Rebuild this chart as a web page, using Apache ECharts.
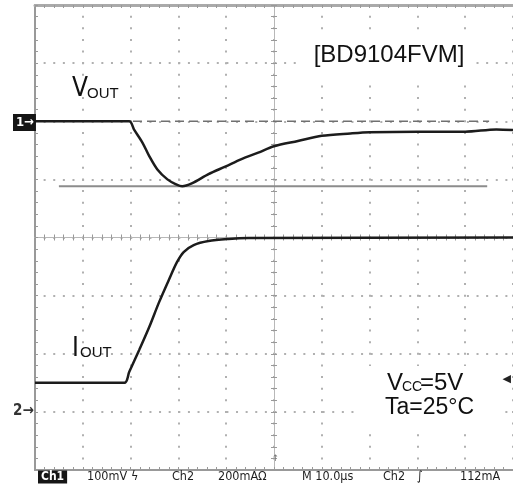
<!DOCTYPE html>
<html><head><meta charset="utf-8">
<script src="https://cdn.jsdelivr.net/npm/echarts@6/dist/echarts.min.js"></script>
<style>html,body{margin:0;padding:0;background:#fff}#c{width:513px;height:496px}</style>
</head><body><div id="c"></div>
<script>
// ---- data (time in µs, Vout deviation in mV, Iout in mA) ----
const timeVout = [0, 19.7, 20.7, 22.5, 23.9, 25.6, 27.7, 29.4, 30.8, 32.8, 36.3, 39.8, 43.2, 46.7, 50, 55, 60, 66, 70, 80, 90, 96.5, 100];
const vout     = [0, 0, -14, -37, -60, -83, -100, -108, -112, -107, -91, -78, -65, -54, -43, -34, -25, -21, -19, -18, -18, -14, -15];
const timeIout = [0, 18.7, 19.7, 21.8, 23.9, 25.9, 28.0, 29.7, 31.1, 33.2, 36.3, 40.5, 44.6, 100];
const iout     = [100, 100, 137, 213, 292, 375, 454, 515, 550, 574, 588, 595, 598, 600];
// cursors: [startTime, endTime]
const minCursorSpan = [5, 94.6];
const refCursorSpan = [20.5, 95];
const refLevel = 0;
const minLevel = Math.min(...vout);
// status bar strings
const statusTexts = ['100mV', 'ϟ', 'Ch2', '200mAΩ', 'M 10.0µs', 'Ch2', '∫', '112mA'];
const statusX     = [87, 131, 172, 218, 302, 383, 417, 460];

const chart = echarts.init(document.getElementById('c'), null, {renderer: 'canvas'});
const G = {left: 35, top: 5, width: 481, height: 465};
const dot = '#b0b0b0', frame = '#999';

function tickAxis(extra) {
  return Object.assign({
    type: 'value', axisLabel: {show: false},
    axisTick: {show: true, inside: true, length: 3, lineStyle: {color: frame, width: 1}},
    minorTick: {show: true, splitNumber: 5, length: 3, lineStyle: {color: frame, width: 1}},
    splitLine: {show: false}
  }, extra);
}

const option = {
  animation: false,
  backgroundColor: '#fff',
  grid: [Object.assign({}, G), Object.assign({}, G)],
  xAxis: [
    tickAxis({gridIndex: 0, min: 0, max: 100, interval: 10, position: 'bottom',
      axisLine: {show: true, onZero: false, lineStyle: {color: frame, width: 2}},
      splitLine: {show: true, lineStyle: {color: dot, width: 2, type: [2, 9.625], dashOffset: 1}}}),
    tickAxis({gridIndex: 0, min: 0, max: 100, interval: 10, position: 'top',
      axisLine: {show: true, onZero: false, lineStyle: {color: '#aaa', width: 3}}}),
    tickAxis({gridIndex: 1, min: -5, max: 5, interval: 1, position: 'bottom',
      axisLine: {show: true, onZero: true, lineStyle: {color: '#b8b8b8', width: 1}}}),
    tickAxis({gridIndex: 1, min: -5, max: 5, interval: 1, position: 'top',
      axisLine: {show: true, onZero: true, lineStyle: {color: '#b8b8b8', width: 1}}})
  ],
  yAxis: [
    tickAxis({gridIndex: 0, min: -600, max: 200, interval: 100, position: 'left',
      axisLine: {show: true, onZero: false, lineStyle: {color: frame, width: 2}},
      splitLine: {show: true, lineStyle: {color: dot, width: 2, type: [2, 7.62], dashOffset: 1}}}),
    {gridIndex: 0, type: 'value', min: -200, max: 1400, interval: 200, position: 'right', show: false},
    tickAxis({gridIndex: 1, min: -4, max: 4, interval: 1, position: 'left',
      axisLine: {show: true, onZero: true, lineStyle: {color: '#b8b8b8', width: 1}}}),
    tickAxis({gridIndex: 1, min: -4, max: 4, interval: 1, position: 'right',
      axisLine: {show: true, onZero: true, lineStyle: {color: '#b8b8b8', width: 1}}})
  ],
  series: [
    {name: 'minCursor', type: 'line', xAxisIndex: 0, yAxisIndex: 0, z: 3, showSymbol: false, silent: true,
     data: minCursorSpan.map(t => [t, minLevel]),
     lineStyle: {color: '#8c8c8c', width: 2}},
    {name: 'refCursor', type: 'line', xAxisIndex: 0, yAxisIndex: 0, z: 3, showSymbol: false, silent: true,
     data: refCursorSpan.map(t => [t, refLevel]),
     lineStyle: {color: '#707070', width: 1.5, type: [9, 5]}},
    {name: 'VOUT', type: 'line', xAxisIndex: 0, yAxisIndex: 0, z: 5, showSymbol: false, smooth: 0.3,
     data: timeVout.map((t, i) => [t, vout[i]]),
     lineStyle: {color: '#1c1c1c', width: 2.5}},
    {name: 'IOUT', type: 'line', xAxisIndex: 0, yAxisIndex: 1, z: 5, showSymbol: false, smooth: 0.3,
     data: timeIout.map((t, i) => [t, iout[i]]),
     lineStyle: {color: '#1c1c1c', width: 2.5}}
  ],
  graphic: [
    {type: 'rect', z: 50, shape: {x: 296, y: 33, width: 177, height: 44}, style: {fill: '#fff'}},
    {type: 'rect', z: 50, shape: {x: 356, y: 366, width: 142, height: 68}, style: {fill: '#fff'}},
    // labels
    {type: 'text', z: 60, x: 72, y: 89.5, style: {text: 'V', fontSize: 26, fontFamily: '"Liberation Sans Narrow","DejaVu Sans Condensed","Liberation Sans"', fill: '#111', align: 'left', verticalAlign: 'middle'}},
    {type: 'text', z: 60, x: 87, y: 93.5, style: {text: 'OUT', fontSize: 15, fontFamily: '"Liberation Sans"', fill: '#111', align: 'left', verticalAlign: 'middle'}},
    {type: 'text', z: 60, x: 72, y: 349, style: {text: 'I', fontSize: 26, fontFamily: '"Liberation Sans Narrow","DejaVu Sans Condensed","Liberation Sans"', fill: '#111', align: 'left', verticalAlign: 'middle'}},
    {type: 'text', z: 60, x: 80, y: 352.5, style: {text: 'OUT', fontSize: 15, fontFamily: '"Liberation Sans"', fill: '#111', align: 'left', verticalAlign: 'middle'}},
    {type: 'text', z: 60, x: 389, y: 55.5, style: {text: '[BD9104FVM]', fontSize: 24, fontFamily: '"Liberation Sans"', fill: '#111', align: 'center', verticalAlign: 'middle'}},
    {type: 'text', z: 60, x: 387, y: 383, style: {text: 'V', fontSize: 24, fontFamily: '"Liberation Sans"', fill: '#111', align: 'left', verticalAlign: 'middle'}},
    {type: 'text', z: 60, x: 402, y: 387, style: {text: 'CC', fontSize: 14, fontFamily: '"Liberation Sans"', fill: '#111', align: 'left', verticalAlign: 'middle'}},
    {type: 'text', z: 60, x: 420, y: 383, style: {text: '=5V', fontSize: 24, fontFamily: '"Liberation Sans"', fill: '#111', align: 'left', verticalAlign: 'middle'}},
    {type: 'text', z: 60, x: 429.5, y: 408, style: {text: 'Ta=25°C', fontSize: 23, fontFamily: '"Liberation Sans"', fill: '#111', align: 'center', verticalAlign: 'middle'}},
    // channel markers
    {type: 'text', z: 60, x: 13, y: 122.5, style: {text: '1→', fontSize: 13, fontWeight: 'bold', fontFamily: '"DejaVu Sans Condensed","DejaVu Sans"', fill: '#fff', backgroundColor: '#151515', padding: [2, 2, 2, 3], align: 'left', verticalAlign: 'middle'}},
    {type: 'text', z: 60, x: 13, y: 411.5, style: {text: '2→', fontSize: 15, fontWeight: 'bold', fontFamily: '"DejaVu Sans Condensed","DejaVu Sans"', fill: '#333', align: 'left', verticalAlign: 'middle'}},
    {type: 'text', z: 60, x: 511, y: 379, style: {text: '◀', fontSize: 11, fontFamily: '"DejaVu Sans"', fill: '#222', align: 'right', verticalAlign: 'middle'}},
    {type: 'text', z: 60, x: 275.5, y: 459, style: {text: '↑', fontSize: 9, fontFamily: '"DejaVu Sans"', fill: '#777', align: 'center', verticalAlign: 'middle'}},
    // status bar
    {type: 'text', z: 60, x: 38, y: 477, style: {text: 'Ch1', fontSize: 12, fontWeight: 'bold', fontFamily: '"DejaVu Sans Condensed","DejaVu Sans"', fill: '#fff', backgroundColor: '#151515', padding: [1, 3, 0, 3], align: 'left', verticalAlign: 'middle'}}
  ].concat(statusTexts.map((s, i) => ({
    type: 'text', z: 60, x: statusX[i], y: 477,
    style: {text: s, fontSize: 12.5, fontWeight: 500, fontFamily: '"DejaVu Sans Condensed","DejaVu Sans"', fill: '#1e1e1e', align: 'left', verticalAlign: 'middle'}
  })))
};
chart.setOption(option);
</script>
</body></html>
